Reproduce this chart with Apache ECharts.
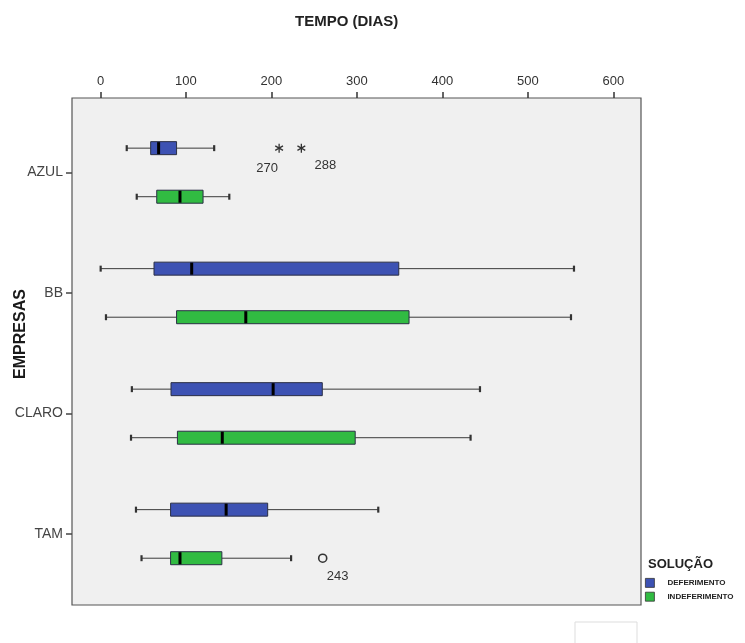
<!DOCTYPE html>
<html>
<head>
<meta charset="utf-8">
<script src="https://cdn.jsdelivr.net/npm/echarts@6/dist/echarts.min.js"></script>
<style>
html,body{margin:0;padding:0;background:#fff;}
#chart{width:745px;height:643px;}
</style>
</head>
<body>
<div id="chart"></div>
<script>
// ---- data ----
const categories = ['AZUL', 'BB', 'CLARO', 'TAM'];
// [min, Q1, median, Q3, max] per category
const deferimento = [
  [30.7, 58.7, 68, 89, 133],
  [0.2, 62.6, 106.7, 349, 554],
  [36.7, 82.5, 202, 259.5, 444],
  [41.5, 82, 147, 195.6, 325]
];
const indeferimento = [
  [42.4, 65.8, 93, 120, 150.7],
  [6.4, 89, 170, 361, 550.5],
  [35.7, 90, 142.5, 298, 433],
  [48, 82, 93, 142, 223]
];
// outliers: [category index, value, case number]
const deferimentoOutliers = [[0, 209, '270'], [0, 235, '288']];
const indeferimentoOutliers = [[3, 260, '243']];
const seriesNames = ['DEFERIMENTO', 'INDEFERIMENTO'];
const xMin = 0, xMax = 600, xStep = 100;

// ---- styles ----
const colors = ['#3d52b3', '#31bb42'];
const bandOffset = [-0.2, 0.203];
const outlierSymbols = ['star', 'circle'];
const outlierLabelOffsets = [[[-12, 20], [24, 17]], [[15, 18]]];
const FONT = '"Liberation Sans", Arial, sans-serif';

function boxRenderer(k) {
  return function (params, api) {
    const cat = api.value(0);
    const band = api.size([0, 1])[1];
    const pts = [1, 2, 3, 4, 5].map(d => api.coord([api.value(d), cat]));
    const y = pts[0][1] + band * bandOffset[k];
    const h = 13;
    const line = (x1, y1, x2, y2, w, c) => ({
      type: 'line', shape: { x1, y1, x2, y2 },
      style: { stroke: c || '#3a3a3a', lineWidth: w || 1 }
    });
    return {
      type: 'group',
      children: [
        line(pts[0][0], y, pts[1][0], y),
        line(pts[3][0], y, pts[4][0], y),
        line(pts[0][0], y - 3, pts[0][0], y + 3, 2.2, '#333'),
        line(pts[4][0], y - 3, pts[4][0], y + 3, 2.2, '#333'),
        {
          type: 'rect',
          shape: { x: pts[1][0], y: y - h / 2, width: pts[3][0] - pts[1][0], height: h },
          style: { fill: colors[k], stroke: '#2a2f45', lineWidth: 1 }
        },
        line(pts[2][0], y - h / 2 + 0.5, pts[2][0], y + h / 2 - 0.5, 3, '#000')
      ]
    };
  };
}

function outlierRenderer(k, list) {
  return function (params, api) {
    const cat = api.value(0);
    const band = api.size([0, 1])[1];
    const p = api.coord([api.value(1), cat]);
    const x = p[0], y = p[1] + band * bandOffset[k];
    const off = outlierLabelOffsets[k][params.dataIndex];
    const children = [];
    if (outlierSymbols[k] === 'star') {
      const r = 4.5;
      for (let a = 0; a < 3; a++) {
        const ang = Math.PI / 2 + a * Math.PI / 3;
        children.push({
          type: 'line',
          shape: { x1: x - r * Math.cos(ang), y1: y - r * Math.sin(ang), x2: x + r * Math.cos(ang), y2: y + r * Math.sin(ang) },
          style: { stroke: '#333', lineWidth: 1.3 }
        });
      }
    } else {
      children.push({
        type: 'circle', shape: { cx: x, cy: y, r: 4 },
        style: { fill: 'none', stroke: '#333', lineWidth: 1.6 }
      });
    }
    children.push({
      type: 'text',
      style: {
        text: list[params.dataIndex][2], x: x + off[0], y: y + off[1],
        align: 'center', verticalAlign: 'middle',
        font: '13px ' + FONT, fill: '#333'
      }
    });
    return { type: 'group', children };
  };
}

const chart = echarts.init(document.getElementById('chart'), null, { renderer: 'canvas' });

const option = {
  animation: false,
  backgroundColor: '#ffffff',
  title: [
    {
      text: 'TEMPO (DIAS)', left: 295, top: 14, padding: 0,
      textStyle: { fontFamily: FONT, fontSize: 15, fontWeight: 'bold', color: '#222' }
    },
    {
      text: 'SOLUÇÃO', left: 648, top: 558, padding: 0,
      textStyle: { fontFamily: FONT, fontSize: 13, fontWeight: 'bold', color: '#222' }
    }
  ],
  legend: {
    orient: 'vertical', left: 645, top: 578, padding: 0,
    itemWidth: 9, itemHeight: 9, itemGap: 4, icon: 'rect',
    selectedMode: false,
    data: seriesNames,
    itemStyle: { borderColor: '#333', borderWidth: 0.8 },
    textStyle: { fontFamily: FONT, fontSize: 8, fontWeight: 'bold', color: '#222', padding: [0, 0, 0, 8] }
  },
  graphic: [
    {
      type: 'rect', z: -1,
      shape: { x: 72, y: 98, width: 569, height: 507 },
      style: { fill: '#f0f0f0', stroke: '#555', lineWidth: 1.2 }
    },
    {
      type: 'rect', z: -1,
      shape: { x: 575, y: 622, width: 62, height: 25 },
      style: { fill: '#fff', stroke: '#ddd', lineWidth: 1 }
    },
    {
      type: 'text', x: 21, y: 334, rotation: Math.PI / 2,
      style: {
        text: 'EMPRESAS', align: 'center', verticalAlign: 'middle',
        font: 'bold 16px ' + FONT, fill: '#1a1a1a'
      }
    }
  ],
  grid: [
    { left: 100.5, right: 131.7, top: 112, height: 482 },
    { left: 72, right: 104, top: 112, height: 482 }
  ],
  xAxis: [
    {
      type: 'value', position: 'top', offset: 14, gridIndex: 0,
      min: xMin, max: xMax, interval: xStep,
      axisLine: { show: false },
      axisTick: { show: true, length: 6, lineStyle: { color: '#333', width: 1.5 } },
      axisLabel: { margin: 10, fontSize: 13, color: '#333', fontFamily: FONT },
      splitLine: { show: false }
    },
    { type: 'value', gridIndex: 1, show: false, min: 0, max: 1 }
  ],
  yAxis: [
    {
      type: 'category', data: categories, inverse: true, gridIndex: 0, show: false
    },
    {
      type: 'category', data: categories, inverse: true, gridIndex: 1,
      axisLine: { show: false },
      axisTick: { show: true, alignWithLabel: true, length: 6, lineStyle: { color: '#444', width: 1.5 } },
      axisLabel: { margin: 9, fontSize: 14, color: '#444', fontFamily: FONT },
      splitLine: { show: false }
    }
  ],
  series: [
    {
      name: seriesNames[0], type: 'custom', itemStyle: { color: colors[0] },
      xAxisIndex: 0, yAxisIndex: 0,
      encode: { x: [1, 2, 3, 4, 5], y: 0 },
      renderItem: boxRenderer(0),
      data: deferimento.map((v, i) => [i].concat(v))
    },
    {
      name: seriesNames[1], type: 'custom', itemStyle: { color: colors[1] },
      xAxisIndex: 0, yAxisIndex: 0,
      encode: { x: [1, 2, 3, 4, 5], y: 0 },
      renderItem: boxRenderer(1),
      data: indeferimento.map((v, i) => [i].concat(v))
    },
    {
      name: seriesNames[0], type: 'custom', itemStyle: { color: colors[0] },
      xAxisIndex: 0, yAxisIndex: 0,
      encode: { x: 1, y: 0 },
      renderItem: outlierRenderer(0, deferimentoOutliers),
      data: deferimentoOutliers.map(o => [o[0], o[1]])
    },
    {
      name: seriesNames[1], type: 'custom', itemStyle: { color: colors[1] },
      xAxisIndex: 0, yAxisIndex: 0,
      encode: { x: 1, y: 0 },
      renderItem: outlierRenderer(1, indeferimentoOutliers),
      data: indeferimentoOutliers.map(o => [o[0], o[1]])
    }
  ]
};
chart.setOption(option);
</script>
</body>
</html>
